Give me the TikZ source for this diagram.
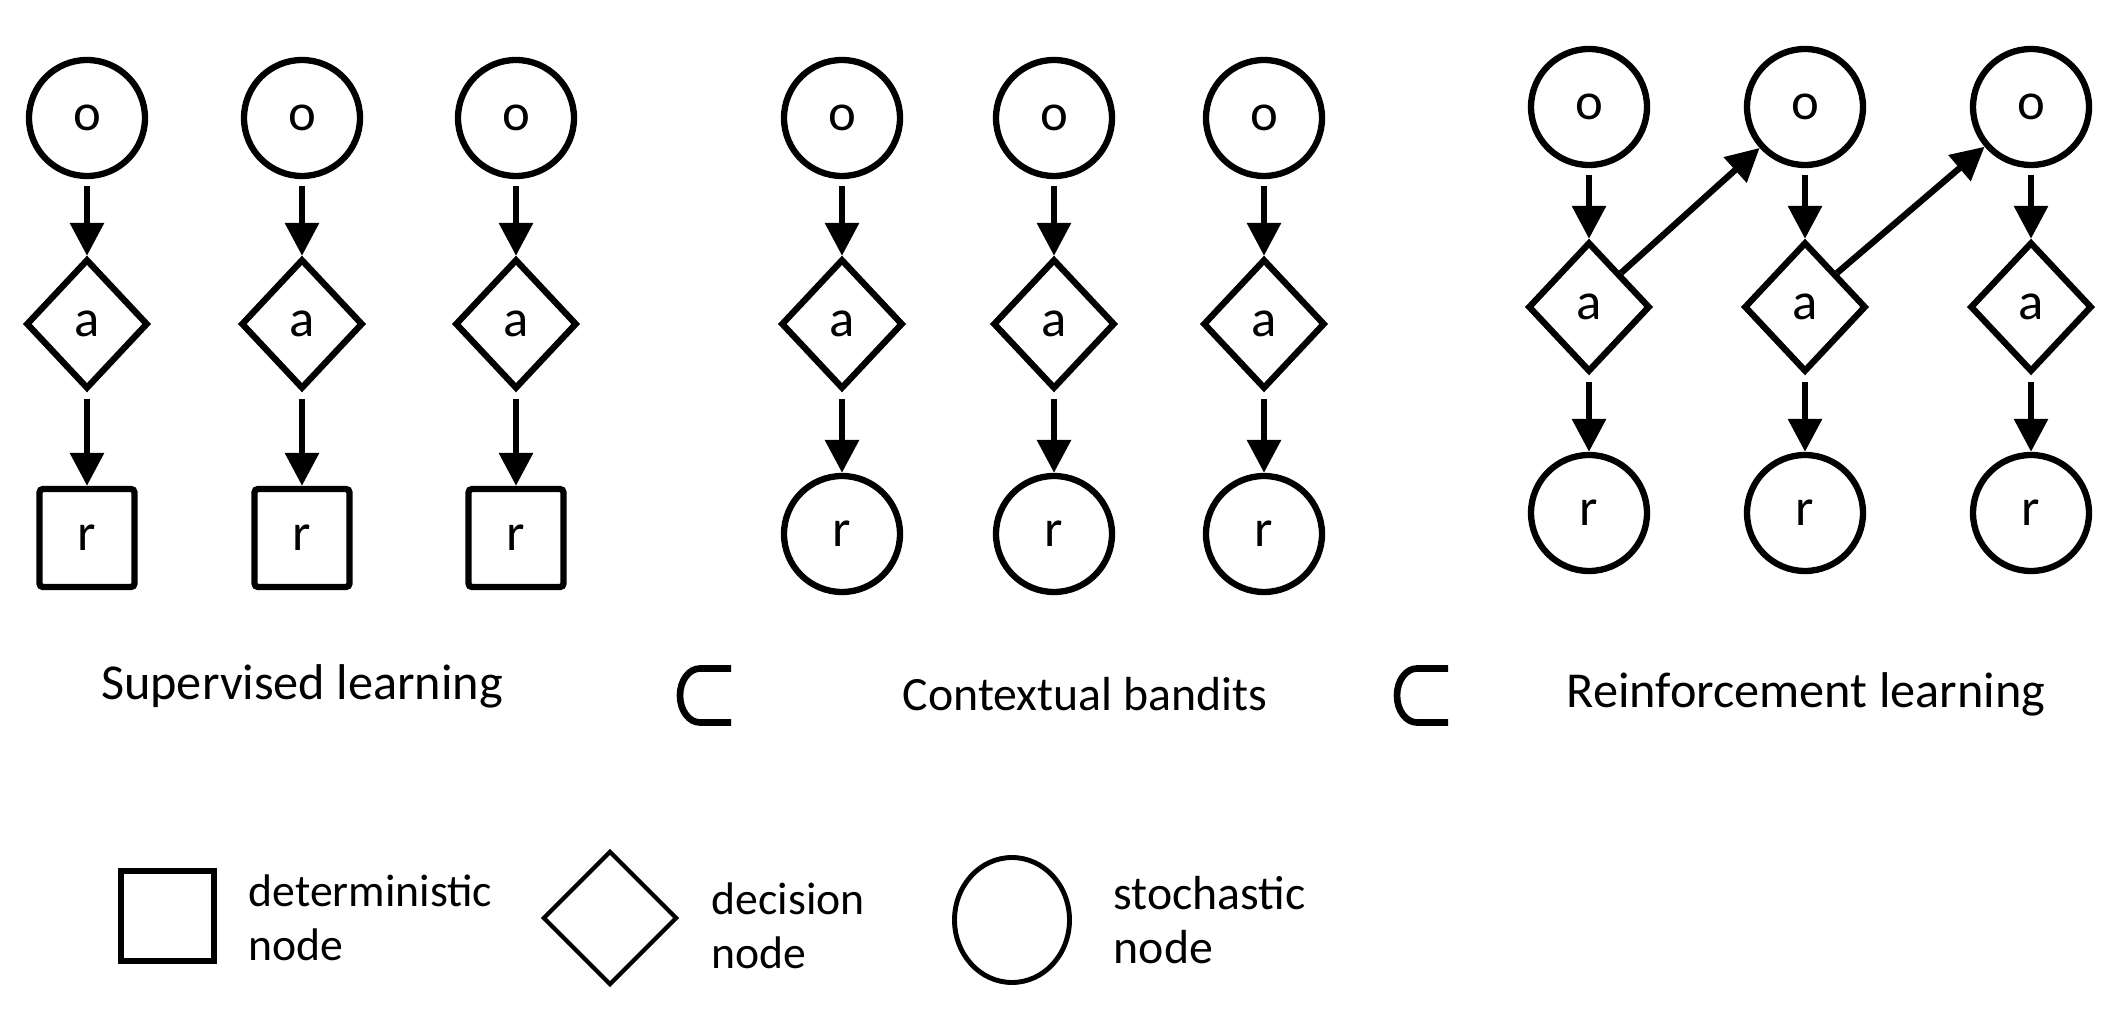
\documentclass[tikz,border=0pt]{standalone}
\usepackage{fontspec}
\setmainfont{Carlito}
\usepackage{tikz}
\usetikzlibrary{arrows.meta}
\usetikzlibrary{shapes.geometric}
\usetikzlibrary{positioning}

\tikzset{
	letter/.style={font=\fontsize{15}{17}\selectfont, inner sep=0pt},
	stoch/.style={letter, draw, circle, line width=1.8pt, minimum size=1.16cm},
	decis/.style={letter, draw, diamond, line width=1.8pt, minimum width=1.22cm, minimum height=1.3cm},
	determ/.style={letter, draw, rectangle, line width=1.8pt, minimum width=0.95cm, minimum height=0.98cm, rounded corners=1pt},
	link/.style={-{Triangle[length=3.3mm,width=3.3mm]}, line width=1.8pt, shorten <=2pt},
	caption/.style={font=\fontsize{14.3}{17}\selectfont, anchor=base},
	keytext/.style={font=\fontsize{13}{15.4}\selectfont, align=left, anchor=west, inner sep=0pt},
	subsetsign/.style={line width=1.9pt},
}

\begin{document}
\begin{tikzpicture}
	\useasboundingbox (0,0) rectangle (21.02,10.16);

	% supervised learning
	\foreach \x [count=\i] in {0.87,3.02,5.16}{
		\node[stoch] (so\i) at (\x,8.98) {o};
		\node[decis] (sa\i) at (\x,6.92) {a};
		\node[determ] (sr\i) at (\x,4.78) {r};
		\draw[link] (so\i) -- (sa\i);
		\draw[link] (sa\i) -- (sr\i);
	}

	% contextual bandits
	\foreach \x [count=\i] in {8.42,10.54,12.64}{
		\node[stoch] (co\i) at (\x,8.98) {o};
		\node[decis] (ca\i) at (\x,6.92) {a};
		\node[stoch] (cr\i) at (\x,4.82) {r};
		\draw[link] (co\i) -- (ca\i);
		\draw[link] (ca\i) -- (cr\i);
	}

	% reinforcement learning
	\foreach \x [count=\i] in {15.89,18.05,20.31}{
		\node[stoch] (ro\i) at (\x,9.09) {o};
		\node[decis] (ra\i) at (\x,7.09) {a};
		\node[stoch] (rr\i) at (\x,5.03) {r};
		\draw[link] (ro\i) -- (ra\i);
		\draw[link] (ra\i) -- (rr\i);
	}
	\draw[link, shorten <=0pt] (ra1.north east) -- (ro2);
	\draw[link, shorten <=0pt] (ra2.north east) -- (ro3);

	\node[caption] (suptxt) at (3.02,3.16) {Supervised learning};
	\node[caption, font=\fontsize{13.6}{17}\selectfont] (ctxtxt) at (10.85,3.06) {Contextual bandits};
	\node[caption] (rltxt) at (18.06,3.08) {Reinforcement learning};

	% subset signs
	\draw[subsetsign] (7.31,3.475) -- (7.0,3.475) arc[start angle=90, end angle=270, x radius=0.2, y radius=0.27] -- (7.31,2.935);
	\draw[subsetsign] (14.48,3.475) -- (14.17,3.475) arc[start angle=90, end angle=270, x radius=0.2, y radius=0.27] -- (14.48,2.935);

	% legend
	\node[draw, rectangle, line width=1.6pt, minimum width=0.93cm, minimum height=0.9cm] (keydet) at (1.675,1.0) {};
	\node[keytext] (keydettxt) at (2.48,0.98) {deterministic\\node};
	\node[draw, diamond, line width=1.2pt, minimum width=1.34cm, minimum height=1.34cm, inner sep=0pt] (keydec) at (6.10,0.98) {};
	\node[keytext] (keydectxt) at (7.11,0.90) {decision\\node};
	\node[draw, ellipse, line width=1.4pt, minimum width=1.15cm, minimum height=1.25cm, inner sep=0pt] (keysto) at (10.12,0.96) {};
	\node[keytext, font=\fontsize{13.6}{15.4}\selectfont] (keystotxt) at (11.13,0.96) {stochastic\\node};
\end{tikzpicture}
\end{document}
